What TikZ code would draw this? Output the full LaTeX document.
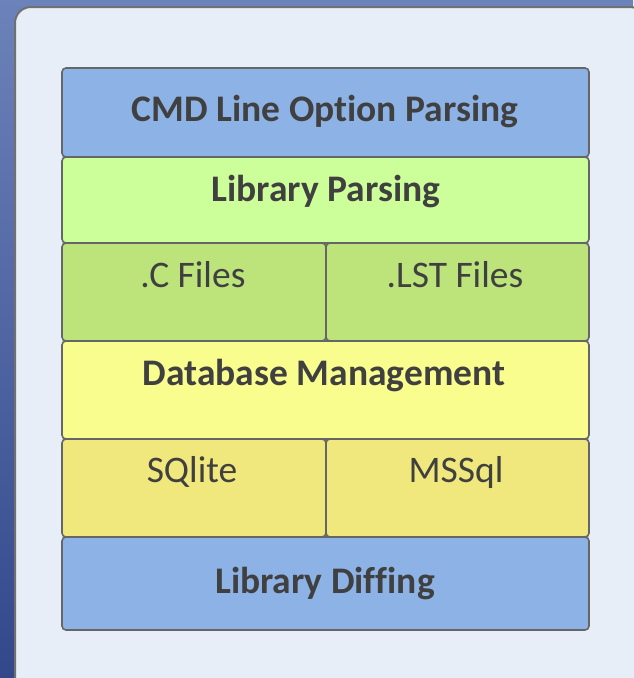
\documentclass[tikz,border=0pt]{standalone}
\usepackage{fontspec}
\setmainfont{Carlito}[Ligatures=NoCommon]
\definecolor{bgtop}{HTML}{6C82BA}
\definecolor{bgbot}{HTML}{33488A}
\definecolor{panelfill}{HTML}{E8EEF8}
\definecolor{panelline}{HTML}{707070}
\definecolor{boxline}{HTML}{666666}
\definecolor{txt}{HTML}{404040}
\definecolor{cblue}{HTML}{8DB2E5}
\definecolor{cgreenlt}{HTML}{CCFF99}
\definecolor{cgreen}{HTML}{BCE47B}
\definecolor{cyellowlt}{HTML}{F8FD8D}
\definecolor{cyellow}{HTML}{F0E87C}
\tikzset{
  layerbox/.style={draw=boxline, line width=1.6pt, rounded corners=4pt, inner sep=0pt},
  boldlabel/.style={anchor=base, text=txt, font=\fontsize{37.5}{45}\selectfont\bfseries, inner sep=0pt},
  plainlabel/.style={anchor=base, text=txt, font=\fontsize{37.5}{45}\selectfont, inner sep=0pt},
}
\begin{document}
\begin{tikzpicture}[x=1pt,y=-1pt]
\useasboundingbox (0,0) rectangle (633,678);
\shade[top color=bgtop, bottom color=bgbot] (0,0) rectangle (633,678);
\draw[panelline, line width=2pt, fill=panelfill, rounded corners=16pt] (15,7) rectangle (646,695);

\node[layerbox, fill=cblue, minimum width=527pt, minimum height=89pt] (cmd) at (325.5,112.5) {};
\node[layerbox, fill=cgreenlt, minimum width=527pt, minimum height=86pt] (lib) at (325.5,200) {};
\node[layerbox, fill=cgreen, minimum width=264pt, minimum height=98pt] (cf) at (194,292) {};
\node[layerbox, fill=cgreen, minimum width=263pt, minimum height=98pt] (lst) at (457.5,292) {};
\node[layerbox, fill=cyellowlt, minimum width=527pt, minimum height=98pt] (db) at (325.5,390) {};
\node[layerbox, fill=cyellow, minimum width=264pt, minimum height=98pt] (sq) at (194,488) {};
\node[layerbox, fill=cyellow, minimum width=263pt, minimum height=98pt] (ms) at (457.5,488) {};
\node[layerbox, fill=cblue, minimum width=527pt, minimum height=93pt] (diff) at (325.5,583.5) {};

\node[boldlabel] (tcmd) at (325,121) {CMD Line Option Parsing};
\node[boldlabel] (tlib) at (326,201) {Library Parsing};
\node[plainlabel] (tcf) at (193,287) {.C Files};
\node[plainlabel] (tlst) at (455,287) {.LST Files};
\node[boldlabel] (tdb) at (324,385) {Database Management};
\node[plainlabel] (tsq) at (192,482) {SQlite};
\node[plainlabel] (tms) at (456,482) {MSSql};
\node[boldlabel] (tdiff) at (325,593) {Library Diffing};
\end{tikzpicture}
\end{document}
